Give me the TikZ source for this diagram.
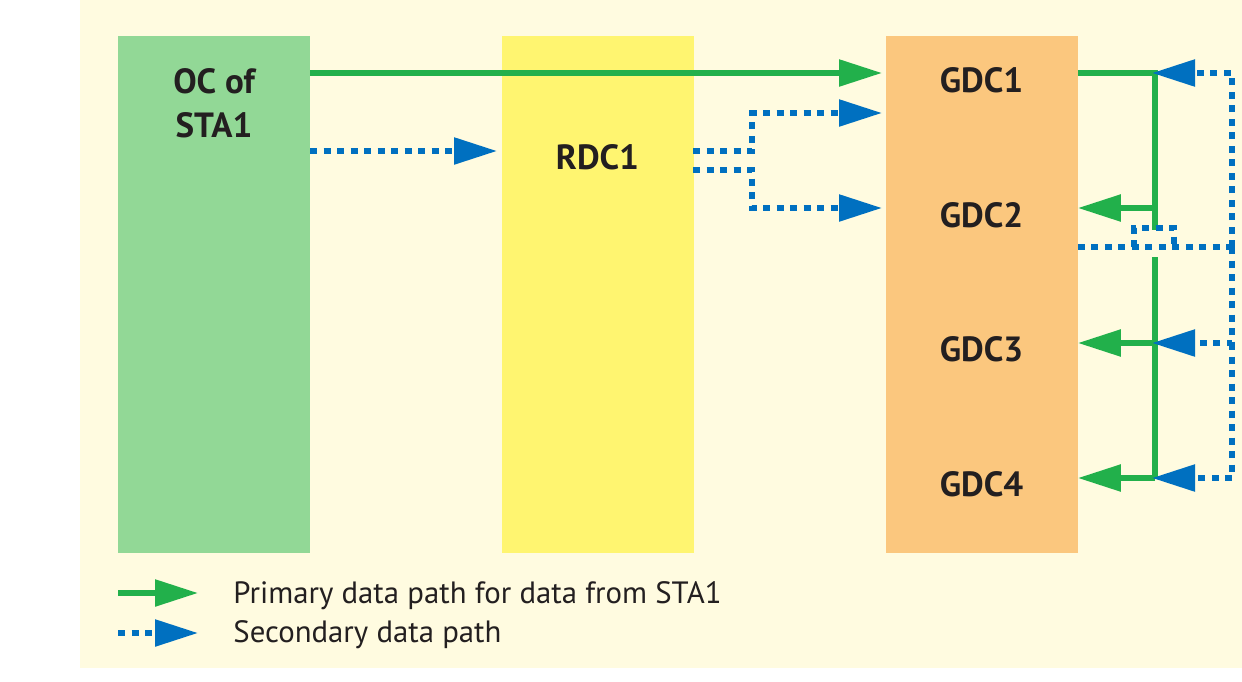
\documentclass[tikz,border=0pt]{standalone}
\usepackage{fontspec}
\setmainfont{PT Sans}
\usetikzlibrary{arrows.meta}
\definecolor{bg}{RGB}{255,251,224}
\definecolor{ocg}{RGB}{146,216,150}
\definecolor{rdcy}{RGB}{255,245,112}
\definecolor{gdco}{RGB}{251,199,126}
\definecolor{pg}{RGB}{34,176,75}
\definecolor{sb}{RGB}{0,112,192}
\definecolor{txt}{RGB}{35,31,32}
\begin{document}
\begin{tikzpicture}[x=0.5pt,y=-0.5pt,
  box/.style={fill=#1, draw=none, inner sep=0pt, minimum width=96pt, minimum height=258.5pt},
  lbl/.style={font=\fontsize{17.5}{22}\selectfont\bfseries, text=txt, anchor=base, inner sep=0pt},
  leg/.style={font=\fontsize{15.4}{20}\selectfont, text=txt, anchor=base west, inner sep=0pt},
  prim/.style={draw=pg, line width=2.75pt},
  sec/.style={draw=sb, line width=2.75pt, dash pattern=on 3.5pt off 3.25pt},
  parr/.style={-{Triangle[length=21.5pt,width=13pt]}},
  hop/.style={draw=sb, line width=2.75pt, dash pattern=on 3.5pt off 3.25pt}
]
\useasboundingbox (0,0) rectangle (1242,681);
\fill[bg] (80,0) rectangle (1242,668);

% boxes
\node[box=ocg]  (oc)  at (214,294.5) {};
\node[box=rdcy] (rdc) at (597.5,294.5) {};
\node[box=gdco] (gdc) at (981.5,294.5) {};

% labels
\node[lbl] (oc1) at (214,93) {OC of};
\node[lbl] (oc2) at (214,137) {STA1};
\node[lbl] (r1) at (597.5,169) {RDC1};
\node[lbl] (g1) at (981.5,92.5) {GDC1};
\node[lbl] (g2) at (981.5,227) {GDC2};
\node[lbl] (g3) at (981.5,361) {GDC3};
\node[lbl] (g4) at (981.5,496) {GDC4};

% junction coordinates
\coordinate (j1) at (1155,73);
\coordinate (j2) at (1155,208);
\coordinate (j3) at (1155,343);
\coordinate (j4) at (1155,478);
\coordinate (s0) at (1232,247);

% primary paths
\draw[prim,parr] (oc.east |- j1) -- (882,73);
\draw[prim] (gdc.east |- j1) -- (j1) -- (1155,230);
\draw[prim] (1155,257) -- (j4);
\draw[prim,parr] (j2) -- (gdc.east |- j2);
\draw[prim,parr] (j3) -- (gdc.east |- j3);
\draw[prim,parr] (j4) -- (gdc.east |- j4);

% secondary paths
\draw[sec,parr] (310,151) -- (497,151);
\draw[sec,parr] (693,151) -- (752,151) -- (752,113) -- (882,113);
\draw[sec,parr] (693,170) -- (752,170) -- (752,208) -- (882,208);
\draw[sec] (gdc.east |- s0) -- (s0);
\draw[hop] (1134,247) -- (1134,228) -- (1174,228) -- (1174,247);
\draw[sec,parr] (s0) -- (1232,73) -- (1152,73);
\draw[sec,parr] (s0) -- (1232,343) -- (1152,343);
\draw[sec,parr] (1232,343) -- (1232,478) -- (1152,478);

% legend
\draw[prim,parr] (118,593) -- (198,593);
\draw[sec,parr] (118,633) -- (198,633);
\node[leg] (l1) at (233,603) {Primary data path for data from STA1};
\node[leg] (l2) at (233,642) {Secondary data path};
\end{tikzpicture}
\end{document}
